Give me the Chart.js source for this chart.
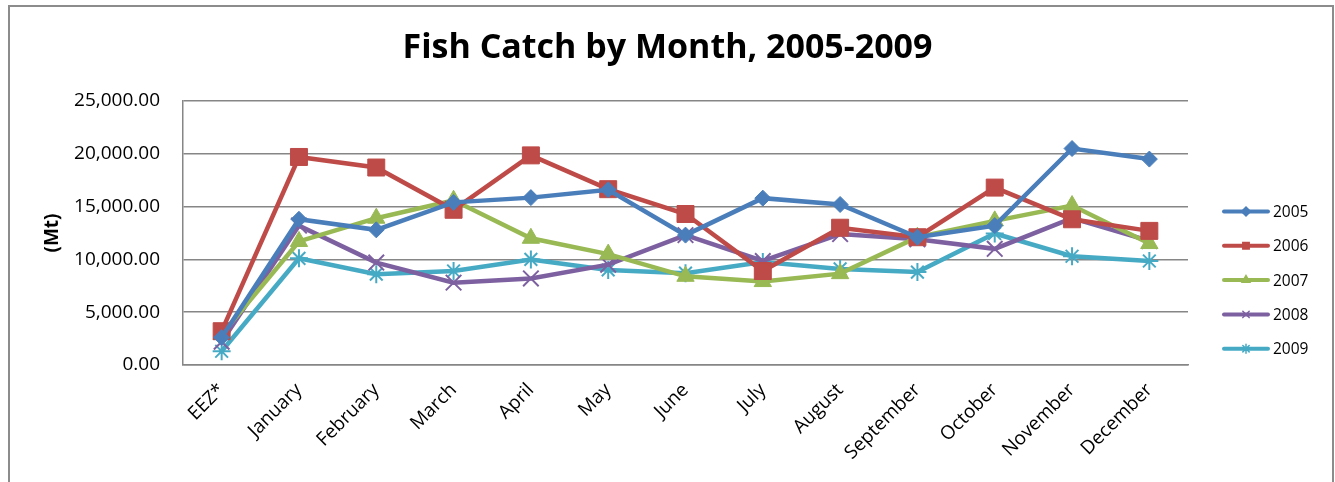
<!DOCTYPE html>
<html>
<head>
<meta charset="utf-8">
<title>Fish Catch by Month, 2005-2009</title>
<script src="https://cdn.jsdelivr.net/npm/chart.js@4/dist/chart.umd.min.js"></script>
<style>
  html, body { margin: 0; padding: 0; background: #fff; }
  #wrap { position: relative; width: 1335px; height: 482px; }
</style>
</head>
<body>
<div id="wrap"><canvas id="fishChart"></canvas></div>
<script>
// ── Data ──────────────────────────────────────────────────────────────────────

const months = ['EEZ*', 'January', 'February', 'March', 'April', 'May', 'June',
    'July', 'August', 'September', 'October', 'November', 'December'];

const catch2005 = [2600, 13800, 12800, 15400, 15850, 16600, 12300, 15800, 15200, 12100, 13200, 20500, 19500];
const catch2006 = [3200, 19700, 18700, 14700, 19850, 16650, 14300, 8900, 13000, 12100, 16800, 13800, 12700];
const catch2007 = [2900, 11700, 13900, 15600, 12000, 10500, 8400, 7900, 8650, 12100, 13650, 15100, 11500];
const catch2008 = [2200, 13200, 9700, 7800, 8200, 9500, 12300, 9850, 12400, 11900, 11000, 13900, 11750];
const catch2009 = [1300, 10100, 8600, 8900, 10000, 9000, 8700, 9750, 9100, 8800, 12450, 10300, 9850];

const yTicksMax = 25000;
const yTicksStep = 5000;

const seriesNames = ['2005', '2006', '2007', '2008', '2009'];
const seriesColors = ['#4a7ebb', '#be4b48', '#98b954', '#7d60a0', '#46aac5'];
const seriesMarkers = ['rectRot', 'rect', 'triangle', 'crossRot', 'star'];
const markerSizes = [8, 12, 10, 11, 9];

const fontFamily = '"Open Sans", Lato, sans-serif';

// ── Plugins ───────────────────────────────────────────────────────────────────

// chart frame like the spreadsheet chart box
const framePlugin = {
    id: 'frame',
    afterDraw(chart) {
        const { ctx } = chart;
        ctx.save();
        ctx.strokeStyle = '#8c8c8c';
        ctx.lineWidth = 2;
        ctx.strokeRect(9, 6, 1324, 500);
        ctx.restore();
    },
};

// legend with a line + marker sample for each series
const lineLegendPlugin = {
    id: 'lineLegend',
    afterDraw(chart) {
        const { ctx } = chart;
        const drawPoint = Chart.helpers && Chart.helpers.drawPoint;
        ctx.save();
        chart.data.datasets.forEach((ds, i) => {
            const y = 211.5 + i * 34.3;
            ctx.strokeStyle = ds.borderColor;
            ctx.lineWidth = 4;
            ctx.lineCap = 'round';
            ctx.beginPath();
            ctx.moveTo(1224, y);
            ctx.lineTo(1268, y);
            ctx.stroke();
            if (drawPoint) {
                ctx.fillStyle = ds.borderColor;
                ctx.strokeStyle = ds.borderColor;
                ctx.lineWidth = 1.5;
                drawPoint(ctx, { pointStyle: ds.pointStyle, radius: 4.5, rotation: 0, borderWidth: 1.5 }, 1246, y);
            }
            ctx.fillStyle = '#000';
            ctx.font = '15.5px ' + fontFamily;
            ctx.textBaseline = 'middle';
            ctx.textAlign = 'left';
            ctx.fillText(ds.label, 1273, y + 1);
        });
        ctx.restore();
    },
};

// ── Chart ─────────────────────────────────────────────────────────────────────

const allSeries = [catch2005, catch2006, catch2007, catch2008, catch2009];

new Chart(document.getElementById('fishChart'), {
    type: 'line',
    data: {
        labels: months,
        datasets: allSeries.map((values, i) => ({
            label: seriesNames[i],
            data: values,
            borderColor: seriesColors[i],
            backgroundColor: seriesColors[i],
            borderWidth: 4.5,
            tension: 0,
            pointStyle: seriesMarkers[i],
            pointRadius: markerSizes[i],
            pointBorderWidth: (seriesMarkers[i] === 'crossRot' || seriesMarkers[i] === 'star') ? 2 : 1,
            pointBorderColor: seriesColors[i],
            pointBackgroundColor: seriesColors[i],
        })),
    },
    options: {
        responsive: true,
        maintainAspectRatio: false,
        animation: false,
        layout: { padding: 0 },
        plugins: {
            legend: { display: false },
            tooltip: { enabled: false },
            title: {
                display: true,
                text: 'Fish Catch by Month, 2005-2009',
                color: '#000',
                font: { family: fontFamily, size: 34, weight: 'bold', lineHeight: 1.2 },
                padding: { top: 28, bottom: 32.2 },
            },
        },
        scales: {
            x: {
                offset: true,
                grid: { display: false, drawTicks: false },
                border: { display: true, color: '#868686', width: 1.5 },
                ticks: {
                    color: '#000',
                    font: { family: fontFamily, size: 19 },
                    minRotation: 45,
                    maxRotation: 45,
                    autoSkip: false,
                    padding: 14,
                },
                afterFit(scale) { scale.height = 117; },
            },
            y: {
                min: 0,
                max: yTicksMax,
                grid: { color: '#868686', lineWidth: 1.5, drawTicks: false },
                border: { display: true, color: '#868686', width: 1.5 },
                ticks: {
                    stepSize: yTicksStep,
                    color: '#000',
                    padding: 23,
                    font: { family: fontFamily, size: 19 },
                    callback: (v) => v.toLocaleString('en-US', { minimumFractionDigits: 2, maximumFractionDigits: 2 }),
                },
                title: {
                    display: true,
                    text: '(Mt)',
                    color: '#000',
                    font: { family: fontFamily, size: 19, weight: 'bold', lineHeight: 1.2 },
                    padding: { top: 41, bottom: 0 },
                },
                afterFit(scale) { scale.width = 183; },
            },
            // empty right-hand axis: reserves the legend's space
            legendSpace: {
                type: 'linear',
                position: 'right',
                grid: { display: false, drawTicks: false },
                border: { display: false },
                ticks: { display: false },
                afterFit(scale) { scale.width = 147; },
            },
        },
    },
    plugins: [framePlugin, lineLegendPlugin],
});
</script>
</body>
</html>
